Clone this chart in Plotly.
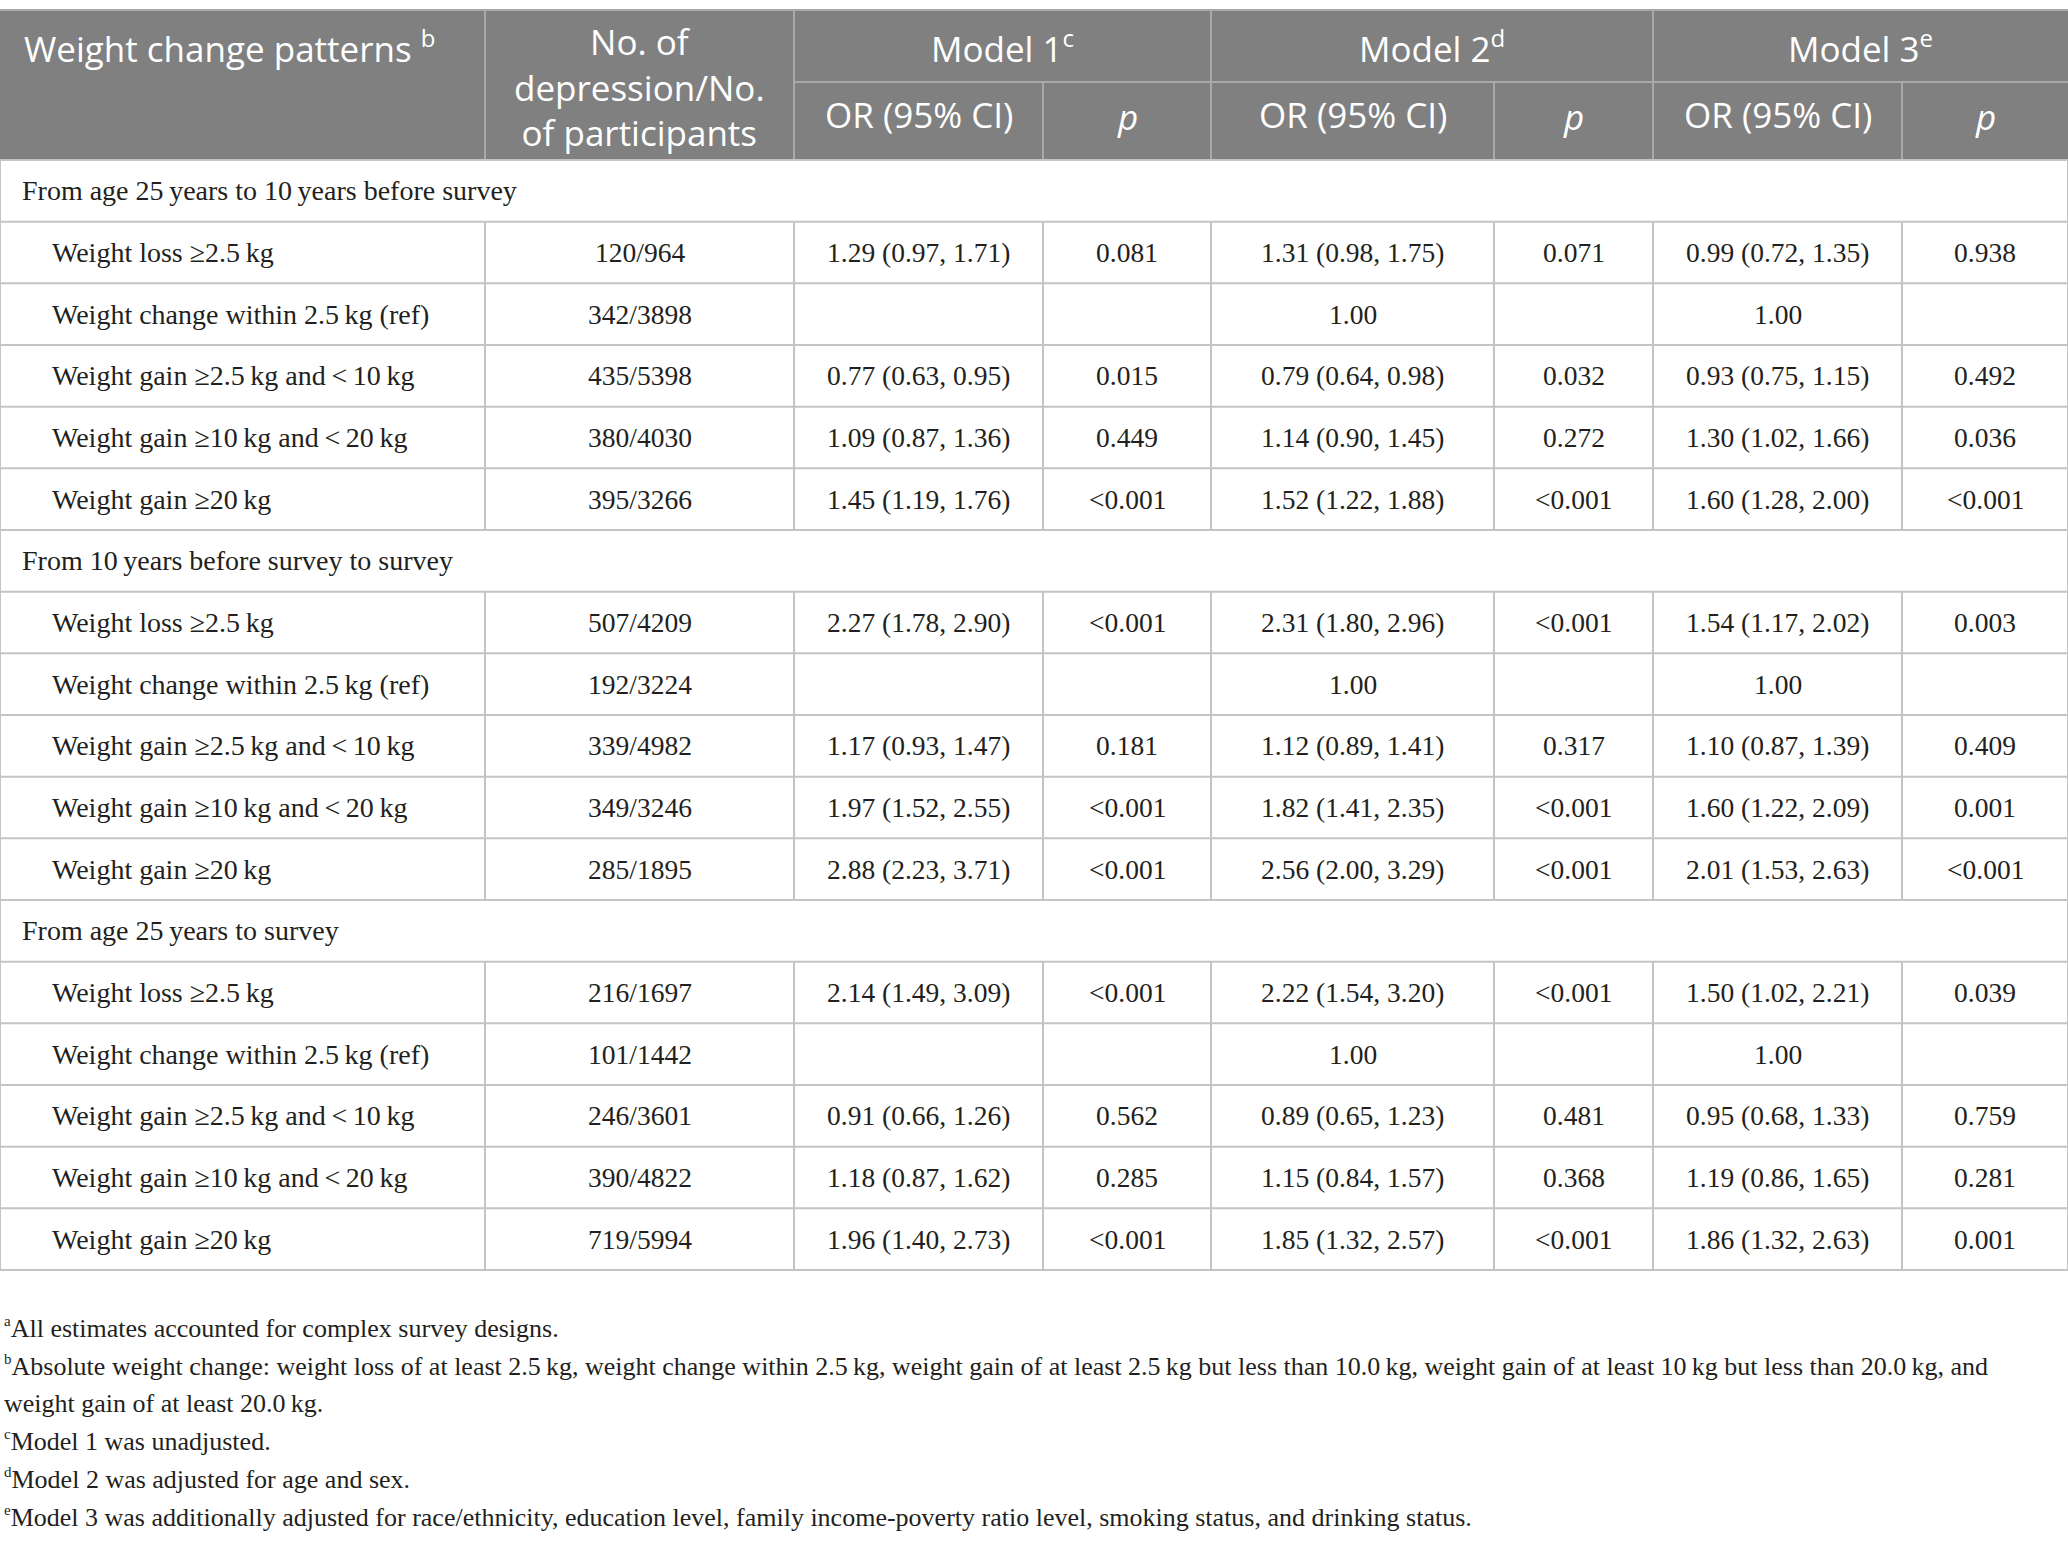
import plotly.graph_objects as go

# ---- table content ----
sections = [
    "From age 25\u2009years to 10\u2009years before survey",
    "From 10\u2009years before survey to survey",
    "From age 25\u2009years to survey",
]
patterns = [
    "Weight loss \u22652.5\u2009kg",
    "Weight change within 2.5\u2009kg (ref)",
    "Weight gain \u22652.5\u2009kg and\u2009<\u200910\u2009kg",
    "Weight gain \u226510\u2009kg and\u2009<\u200920\u2009kg",
    "Weight gain \u226520\u2009kg",
]
cases = [
    ["120/964", "342/3898", "435/5398", "380/4030", "395/3266"],
    ["507/4209", "192/3224", "339/4982", "349/3246", "285/1895"],
    ["216/1697", "101/1442", "246/3601", "390/4822", "719/5994"],
]
m1_or = [
    ["1.29 (0.97, 1.71)", "", "0.77 (0.63, 0.95)", "1.09 (0.87, 1.36)", "1.45 (1.19, 1.76)"],
    ["2.27 (1.78, 2.90)", "", "1.17 (0.93, 1.47)", "1.97 (1.52, 2.55)", "2.88 (2.23, 3.71)"],
    ["2.14 (1.49, 3.09)", "", "0.91 (0.66, 1.26)", "1.18 (0.87, 1.62)", "1.96 (1.40, 2.73)"],
]
m1_p = [
    ["0.081", "", "0.015", "0.449", "<0.001"],
    ["<0.001", "", "0.181", "<0.001", "<0.001"],
    ["<0.001", "", "0.562", "0.285", "<0.001"],
]
m2_or = [
    ["1.31 (0.98, 1.75)", "1.00", "0.79 (0.64, 0.98)", "1.14 (0.90, 1.45)", "1.52 (1.22, 1.88)"],
    ["2.31 (1.80, 2.96)", "1.00", "1.12 (0.89, 1.41)", "1.82 (1.41, 2.35)", "2.56 (2.00, 3.29)"],
    ["2.22 (1.54, 3.20)", "1.00", "0.89 (0.65, 1.23)", "1.15 (0.84, 1.57)", "1.85 (1.32, 2.57)"],
]
m2_p = [
    ["0.071", "", "0.032", "0.272", "<0.001"],
    ["<0.001", "", "0.317", "<0.001", "<0.001"],
    ["<0.001", "", "0.481", "0.368", "<0.001"],
]
m3_or = [
    ["0.99 (0.72, 1.35)", "1.00", "0.93 (0.75, 1.15)", "1.30 (1.02, 1.66)", "1.60 (1.28, 2.00)"],
    ["1.54 (1.17, 2.02)", "1.00", "1.10 (0.87, 1.39)", "1.60 (1.22, 2.09)", "2.01 (1.53, 2.63)"],
    ["1.50 (1.02, 2.21)", "1.00", "0.95 (0.68, 1.33)", "1.19 (0.86, 1.65)", "1.86 (1.32, 2.63)"],
]
m3_p = [
    ["0.938", "", "0.492", "0.036", "<0.001"],
    ["0.003", "", "0.409", "0.001", "<0.001"],
    ["0.039", "", "0.759", "0.281", "0.001"],
]
models = ["Model 1", "Model 2", "Model 3"]
model_marks = ["c", "d", "e"]
footnotes = [
    ("a", "All estimates accounted for complex survey designs."),
    ("b", "Absolute weight change: weight loss of at least 2.5\u2009kg, weight change within 2.5\u2009kg, "
          "weight gain of at least 2.5\u2009kg but less than 10.0\u2009kg, weight gain of at least 10\u2009kg "
          "but less than 20.0\u2009kg, and"),
    ("", "weight gain of at least 20.0\u2009kg."),
    ("c", "Model 1 was unadjusted."),
    ("d", "Model 2 was adjusted for age and sex."),
    ("e", "Model 3 was additionally adjusted for race/ethnicity, education level, family income-poverty "
          "ratio level, smoking status, and drinking status."),
]

# ---- geometry ----
W, H = 2068, 1542
edges = [0, 485, 794, 1043, 1211, 1494, 1653, 1902, 2068]
head_top, head_mid, head_bot = 10, 82, 160
row_h = (1270 - head_bot) / 18
foot_y0, foot_dy = 1328, 37.7

HEAD_BG = "#7f807f"
HEAD_LINE = "#a9a9a9"
GRID = "#c4c4c4"
INK = "#231f20"
SERIF = "Liberation Serif"
SANS = "Open Sans"

centers = [(edges[i] + edges[i + 1]) / 2 for i in range(len(edges) - 1)]

fig = go.Figure()
shapes = []
annots = []


def sup(mark, px):
    return "<sup><span style='font-size:%dpx'>%s</span></sup>" % (px, mark) if mark else ""


def line(x0, y0, x1, y1, color, w=2):
    shapes.append(dict(type="line", xref="x", yref="y", x0=x0, y0=y0, x1=x1, y1=y1,
                       line=dict(color=color, width=w), layer="above"))


def text(x, y, s, size, color=INK, font=SERIF, anchor="center"):
    annots.append(dict(x=x, y=y, xref="x", yref="y", text=s, showarrow=False,
                       xanchor=anchor, yanchor="middle",
                       font=dict(family=font, size=size, color=color)))


# header block
shapes.append(dict(type="rect", xref="x", yref="y", x0=0, y0=head_top, x1=W, y1=head_bot,
                   fillcolor=HEAD_BG, line=dict(width=0), layer="below"))
line(0, head_top, W, head_top, HEAD_LINE)
line(edges[2], head_mid, W, head_mid, HEAD_LINE)
for i in [1, 2, 4, 6]:
    line(edges[i], head_top, edges[i], head_bot, HEAD_LINE)
for i in [3, 5, 7]:
    line(edges[i], head_mid, edges[i], head_bot, HEAD_LINE)

text(22, 46, "Weight change patterns " + sup("b", 24), 35, "white", SANS, "left")
text(centers[1], 87, "No. of<br>depression/No.<br>of participants", 35, "white", SANS)
for k, m in enumerate(models):
    text((edges[2 + 2 * k] + edges[4 + 2 * k]) / 2, 46, m + sup(model_marks[k], 24), 35, "white", SANS)
    text(centers[2 + 2 * k], 114, "OR (95% CI)", 35, "white", SANS)
    text(centers[3 + 2 * k], 116, "<i>p</i>", 35, "white", SANS)

# body
y = head_bot
line(0, y, W, y, GRID)
for s, sec in enumerate(sections):
    text(20, y + row_h / 2, sec, 28, anchor="left")
    line(0, y, 0, y + row_h, GRID)
    line(W, y, W, y + row_h, GRID)
    y += row_h
    line(0, y, W, y, GRID)
    for r, pat in enumerate(patterns):
        cells = [cases[s][r], m1_or[s][r], m1_p[s][r], m2_or[s][r], m2_p[s][r],
                 m3_or[s][r], m3_p[s][r]]
        cy = y + row_h / 2
        text(50, cy, pat, 28, anchor="left")
        for c, val in enumerate(cells):
            if val:
                text(centers[c + 1], cy, val, 27.5)
        for xe in edges:
            line(xe, y, xe, y + row_h, GRID)
        y += row_h
        line(0, y, W, y, GRID)

# footnotes
for k, (mark, note) in enumerate(footnotes):
    text(2, foot_y0 + foot_dy * k, sup(mark, 15) + note, 26, anchor="left")

fig.update_layout(
    width=W, height=H,
    margin=dict(l=0, r=0, t=0, b=0),
    paper_bgcolor="white", plot_bgcolor="white",
    xaxis=dict(range=[0, W], visible=False, fixedrange=True),
    yaxis=dict(range=[H, 0], visible=False, fixedrange=True),
    shapes=shapes, annotations=annots,
    showlegend=False,
)

fig.write_html("out.html", config={"displayModeBar": False},
               post_script="document.body.style.margin='0';")
